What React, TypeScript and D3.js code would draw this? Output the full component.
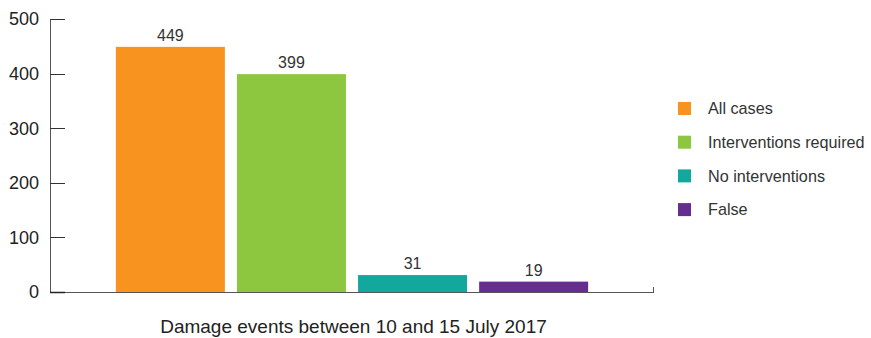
import React from "react";
import * as d3 from "d3";

const categories = ["All cases", "Interventions required", "No interventions", "False"];
const values = [449, 399, 31, 19];
const colors = ["#F7931E", "#8DC63F", "#13A89E", "#662D91"];
const yTicks = [0, 100, 200, 300, 400, 500];
const xTitle = "Damage events between 10 and 15 July 2017";

const W = 871;
const H = 338;
const FONT = "'Liberation Sans', Arial, sans-serif";

export default function App() {
  const x = d3
    .scaleBand<string>()
    .domain(categories)
    .range([50, 654])
    .paddingInner(0.1)
    .paddingOuter(0.544);
  const y = d3.scaleLinear().domain([0, 500]).range([292, 19]);

  return (
    <svg
      width={W}
      height={H}
      style={{ position: "absolute", left: 0, top: 0, background: "#fff" }}
      fontFamily={FONT}
    >
      {/* y axis */}
      <line x1={50.5} x2={50.5} y1={y(500)} y2={y(0)} stroke="#555" strokeWidth={1} />
      {yTicks.map((t) => (
        <g key={t}>
          <line x1={50} x2={65} y1={Math.round(y(t)) + 0.5} y2={Math.round(y(t)) + 0.5} stroke="#333" strokeWidth={1} />
          <text x={39} y={y(t)} dy="0.36em" textAnchor="end" fontSize={18} fill="#222">
            {t}
          </text>
        </g>
      ))}
      {/* bars */}
      {categories.map((c, i) => (
        <g key={c}>
          <rect
            x={x(c)}
            y={y(values[i])}
            width={x.bandwidth()}
            height={y(0) - y(values[i])}
            fill={colors[i]}
          />
          <text
            x={(x(c) as number) + x.bandwidth() / 2}
            y={y(values[i]) - 6}
            textAnchor="middle"
            fontSize={16}
            fill="#333"
          >
            {values[i]}
          </text>
        </g>
      ))}
      {/* baseline */}
      <line x1={50} x2={654} y1={292.5} y2={292.5} stroke="#555" strokeWidth={1} />
      <line x1={653.5} x2={653.5} y1={287} y2={293} stroke="#555" strokeWidth={1} />
      <line x1={50} x2={65} y1={292.5} y2={292.5} stroke="#222" strokeWidth={1.5} />
      {/* x title */}
      <text x={353.5} y={333} textAnchor="middle" fontSize={19} fill="#222">
        {xTitle}
      </text>
      {/* legend */}
      {categories.map((c, i) => (
        <g key={c} transform={`translate(678, ${102 + i * 33.7})`}>
          <rect width={13} height={13} fill={colors[i]} />
          <text x={30} y={6.5} dy="0.36em" fontSize={16.2} fill="#333">
            {c}
          </text>
        </g>
      ))}
    </svg>
  );
}
